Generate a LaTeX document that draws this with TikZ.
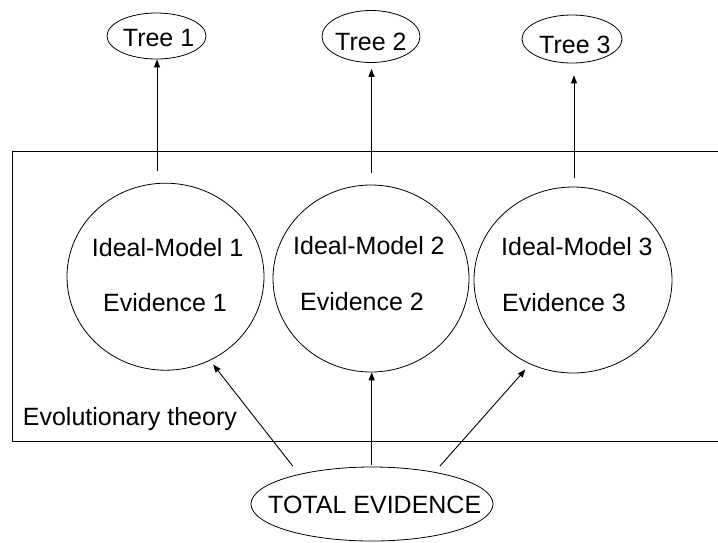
\documentclass[tikz,border=0pt]{standalone}
\usepackage{fontspec}
\setmainfont{Liberation Sans}
\usetikzlibrary{arrows.meta,shapes.geometric}
\begin{document}
\begin{tikzpicture}[x=1pt,y=-1pt,
  lbl/.style={inner sep=0pt, anchor=base west, font=\fontsize{25}{30}\selectfont},
  oval/.style={draw, ellipse, inner sep=0pt, line width=0.8pt},
  arr/.style={-{Triangle[length=8pt,width=6pt]}, line width=0.9pt}]
\useasboundingbox (0,0) rectangle (718,542);

% frame of the theory, open towards the right
\draw[line width=0.8pt] (718,151.7) -- (12.7,151.7) -- (12.7,441) -- (718,441);
\node[lbl] (evo) at (22.7,425) {Evolutionary theory};

% trees
\node[oval, minimum width=99pt, minimum height=46pt] (t1) at (156.5,36) {};
\node[oval, minimum width=98pt, minimum height=52pt] (t2) at (371,36.5) {};
\node[oval, minimum width=100pt, minimum height=48pt] (t3) at (572,39) {};
\node[lbl] (t1txt) at (122.7,46.7) {Tree 1};
\node[lbl] (t2txt) at (335,50) {Tree 2};
\node[lbl] (t3txt) at (539,53.3) {Tree 3};

% ideal models
\node[oval, minimum width=197pt, minimum height=187pt] (m1) at (165.5,276.7) {};
\node[oval, minimum width=196pt, minimum height=187pt] (m2) at (371,278.5) {};
\node[oval, minimum width=198pt, minimum height=186pt] (m3) at (573,280) {};
\node[lbl] (m1a) at (91.7,256.7) {Ideal-Model 1};
\node[lbl] (m1b) at (103,311.7) {Evidence 1};
\node[lbl] (m2a) at (293,254.5) {Ideal-Model 2};
\node[lbl] (m2b) at (300,310) {Evidence 2};
\node[lbl] (m3a) at (501,255) {Ideal-Model 3};
\node[lbl] (m3b) at (502,311.7) {Evidence 3};

% total evidence
\node[oval, minimum width=242pt, minimum height=74pt] (te) at (372,504) {};
\node[lbl] (tetxt) at (268,513) {TOTAL EVIDENCE};

% arrows from the models up to the trees
\coordinate (u1) at (157,171);
\coordinate (u2) at (371.5,173);
\coordinate (u3) at (574,178);
\draw[arr] (u1) -- (u1 |- t1.south);
\draw[arr, shorten >=6pt] (u2) -- (u2 |- t2.south);
\draw[arr, shorten >=12pt] (u3) -- (u3 |- t3.south);

% arrows from the total evidence up to the models
\coordinate (s1) at (292.7,466);
\coordinate (s2) at (371.7,465);
\coordinate (s3) at (440,466);
\draw[arr, shorten >=5pt] (s1) -- (m1.-62);
\draw[arr] (s2) -- (s2 |- m2.south);
\draw[arr, shorten >=7pt] (s3) -- (m3.-117);
\end{tikzpicture}
\end{document}
